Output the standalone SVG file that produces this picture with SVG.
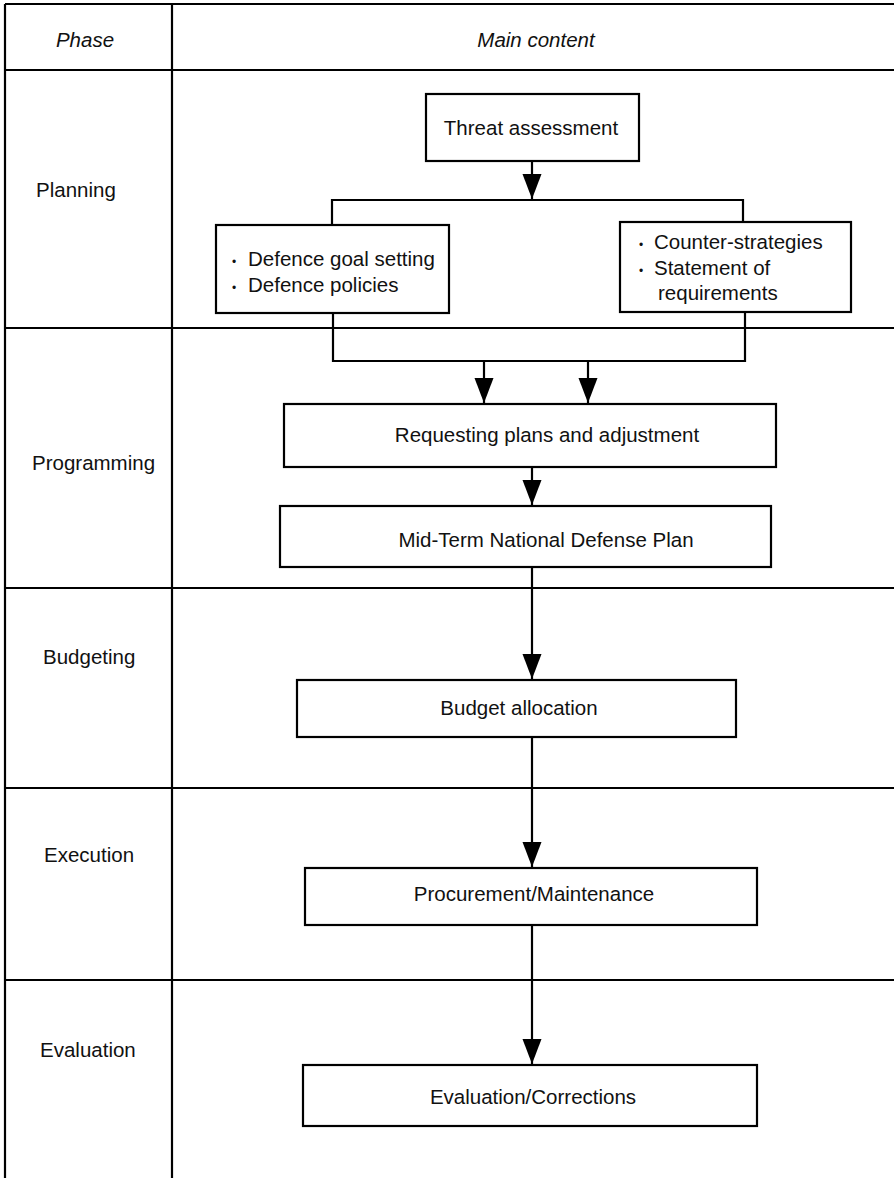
<svg xmlns="http://www.w3.org/2000/svg" width="894" height="1178" viewBox="0 0 894 1178">
<defs>
<style>
.grid{stroke:#000;stroke-width:2.2;fill:none}
.box{fill:#fff;stroke:#000;stroke-width:2.2}
.ln{stroke:#000;stroke-width:2.2;fill:none}
.t{font-family:"Liberation Sans",Arial,Helvetica,sans-serif;font-size:20.5px;fill:#111}
.b{font-size:12px}
.c{text-anchor:middle}
.i{font-style:italic}
</style>
<marker id="ah" markerUnits="userSpaceOnUse" markerWidth="26" markerHeight="20" refX="25" refY="10" orient="auto" viewBox="0 0 26 20">
<path d="M0,0.5 L25,10 L0,19.5 Z" fill="#000"/>
</marker>
</defs>
<rect width="894" height="1178" fill="#fff"/>
<g id="table">
<path class="grid" d="M5,4 H894 M5,4 V1178 M172,4 V1178 M5,70 H894 M5,328 H894 M5,588 H894 M5,788 H894 M5,980 H894"/>
<text class="t i c" x="85" y="47">Phase</text>
<text class="t i c" x="536" y="47">Main content</text>
<text class="t" x="36" y="197">Planning</text>
<text class="t" x="32" y="470">Programming</text>
<text class="t" x="43" y="664">Budgeting</text>
<text class="t" x="44" y="862">Execution</text>
<text class="t" x="40" y="1057">Evaluation</text>
</g>
<g id="connectors">
<path class="ln" d="M532,161 V199" marker-end="url(#ah)"/>
<path class="ln" d="M332,225 V200 H743 V222"/>
<path class="ln" d="M333,313 V361 H745 V312"/>
<path class="ln" d="M484,361 V403" marker-end="url(#ah)"/>
<path class="ln" d="M588,361 V403" marker-end="url(#ah)"/>
<path class="ln" d="M532,467 V505" marker-end="url(#ah)"/>
<path class="ln" d="M532,567 V679" marker-end="url(#ah)"/>
<path class="ln" d="M532,737 V867" marker-end="url(#ah)"/>
<path class="ln" d="M532,925 V1064" marker-end="url(#ah)"/>
</g>
<g id="threat">
<rect class="box" x="426" y="94" width="213" height="67"/>
<text class="t c" x="531" y="135">Threat assessment</text>
</g>
<g id="goals">
<rect class="box" x="216" y="225" width="233" height="88"/>
<text class="t" x="232" y="266"><tspan class="b">•</tspan><tspan x="248">Defence goal setting</tspan></text>
<text class="t" x="232" y="292"><tspan class="b">•</tspan><tspan x="248">Defence policies</tspan></text>
</g>
<g id="counter">
<rect class="box" x="620" y="222" width="231" height="90"/>
<text class="t" x="639" y="249"><tspan class="b">•</tspan><tspan x="654">Counter-strategies</tspan></text>
<text class="t" x="639" y="275"><tspan class="b">•</tspan><tspan x="654">Statement of</tspan></text>
<text class="t" x="658" y="300">requirements</text>
</g>
<g id="requesting">
<rect class="box" x="284" y="404" width="492" height="63"/>
<text class="t c" x="547" y="442">Requesting plans and adjustment</text>
</g>
<g id="midterm">
<rect class="box" x="280" y="506" width="491" height="61"/>
<text class="t c" x="546" y="547">Mid-Term National Defense Plan</text>
</g>
<g id="budget">
<rect class="box" x="297" y="680" width="439" height="57"/>
<text class="t c" x="519" y="715">Budget allocation</text>
</g>
<g id="procurement">
<rect class="box" x="305" y="868" width="452" height="57"/>
<text class="t c" x="534" y="901">Procurement/Maintenance</text>
</g>
<g id="evaluation">
<rect class="box" x="303" y="1065" width="454" height="61"/>
<text class="t c" x="533" y="1104">Evaluation/Corrections</text>
</g>
</svg>
